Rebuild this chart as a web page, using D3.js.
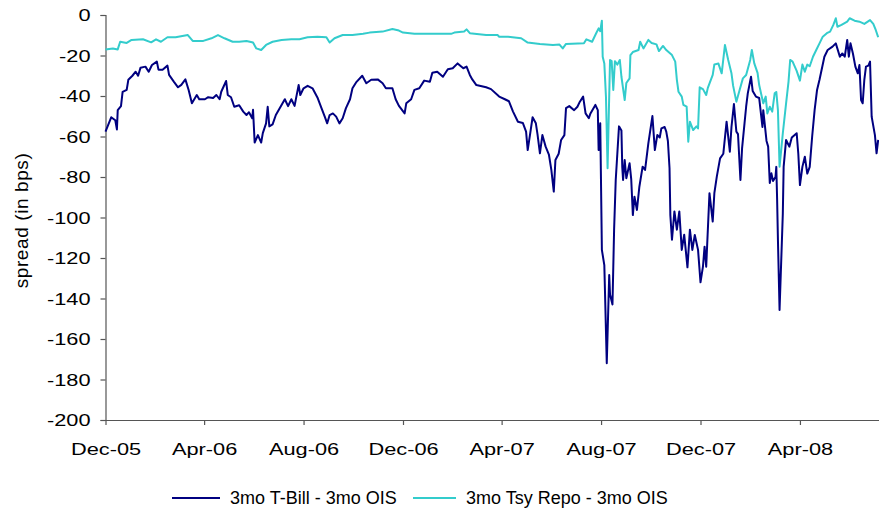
<!DOCTYPE html>
<html>
<head>
<meta charset="utf-8">
<script src="https://cdn.jsdelivr.net/npm/d3@7"></script>
<style>
  html, body { margin: 0; padding: 0; background: #fff; }
  svg { display: block; font-family: "Liberation Sans", Arial, sans-serif; }
</style>
</head>
<body>
<svg id="chart" width="879" height="516"></svg>
<script>
// ---------------- DATA ----------------
const seriesNames = ["3mo T-Bill - 3mo OIS", "3mo Tsy Repo - 3mo OIS"];

const billDates = [
"2005-12-01","2005-12-08","2005-12-13","2005-12-15","2005-12-16","2005-12-20","2005-12-22","2005-12-27","2005-12-29",
"2006-01-03","2006-01-07","2006-01-10","2006-01-13","2006-01-19","2006-01-23","2006-01-27","2006-02-02","2006-02-04",
"2006-02-09","2006-02-15","2006-02-17","2006-02-23","2006-02-28","2006-03-04","2006-03-09","2006-03-13","2006-03-17",
"2006-03-23","2006-03-26","2006-04-02","2006-04-06","2006-04-12","2006-04-16","2006-04-20","2006-04-22","2006-04-28",
"2006-04-30","2006-05-04","2006-05-08","2006-05-14","2006-05-19","2006-05-23","2006-05-26","2006-05-30","2006-05-31",
"2006-06-02","2006-06-06","2006-06-10","2006-06-12","2006-06-16","2006-06-18","2006-06-20","2006-06-24","2006-06-28",
"2006-07-05","2006-07-09","2006-07-13","2006-07-17","2006-07-21","2006-07-23","2006-07-26","2006-07-28","2006-08-01",
"2006-08-06","2006-08-12","2006-08-18","2006-08-23","2006-08-27","2006-08-30","2006-09-02","2006-09-06","2006-09-10",
"2006-09-14","2006-09-18","2006-09-22","2006-09-27","2006-09-30","2006-10-05","2006-10-12","2006-10-17","2006-10-23",
"2006-10-31","2006-11-06","2006-11-10","2006-11-18","2006-11-22","2006-11-26","2006-12-03","2006-12-05","2006-12-11",
"2006-12-15","2006-12-21","2006-12-27","2007-01-03","2007-01-06","2007-01-12","2007-01-19","2007-01-25","2007-01-31",
"2007-02-06","2007-02-13","2007-02-17","2007-02-21","2007-02-24","2007-03-01","2007-03-13","2007-03-19","2007-03-29",
"2007-04-05","2007-04-10","2007-04-15","2007-04-21","2007-04-27","2007-05-01","2007-05-03","2007-05-09","2007-05-13",
"2007-05-15","2007-05-18","2007-05-21","2007-05-25","2007-05-29","2007-06-01","2007-06-04","2007-06-06","2007-06-10",
"2007-06-13","2007-06-17","2007-06-19","2007-06-23","2007-06-29","2007-07-03","2007-07-06","2007-07-10","2007-07-13",
"2007-07-17","2007-07-19","2007-07-25","2007-07-28","2007-07-29","2007-07-31","2007-08-02","2007-08-05","2007-08-08",
"2007-08-11","2007-08-12","2007-08-15","2007-08-17","2007-08-19","2007-08-23","2007-08-26","2007-08-27","2007-08-28",
"2007-08-30","2007-09-01","2007-09-05","2007-09-07","2007-09-09","2007-09-11","2007-09-14","2007-09-17","2007-09-21",
"2007-09-24","2007-09-28","2007-10-03","2007-10-06","2007-10-09","2007-10-12","2007-10-14","2007-10-18","2007-10-20",
"2007-10-22","2007-10-24","2007-10-25","2007-10-27","2007-10-30","2007-11-02","2007-11-05","2007-11-08","2007-11-11",
"2007-11-15","2007-11-18","2007-11-21","2007-11-24","2007-11-28","2007-12-01","2007-12-04","2007-12-06","2007-12-08",
"2007-12-12","2007-12-16","2007-12-18","2007-12-21","2007-12-25","2007-12-29","2008-01-02","2008-01-06","2008-01-08",
"2008-01-11","2008-01-14","2008-01-16","2008-01-19","2008-01-21","2008-01-24","2008-01-26","2008-01-28","2008-02-01",
"2008-02-03","2008-02-07","2008-02-11","2008-02-15","2008-02-16","2008-02-20","2008-02-22","2008-02-24","2008-02-26",
"2008-02-28","2008-03-02","2008-03-03","2008-03-04","2008-03-05","2008-03-07","2008-03-11","2008-03-12","2008-03-15",
"2008-03-19","2008-03-22","2008-03-28","2008-03-30","2008-04-01","2008-04-04","2008-04-07","2008-04-10","2008-04-13",
"2008-04-16","2008-04-19","2008-04-22","2008-04-25","2008-05-01","2008-05-05","2008-05-11","2008-05-15","2008-05-20",
"2008-05-23","2008-05-26","2008-05-29","2008-05-31","2008-06-02","2008-06-05","2008-06-08","2008-06-11","2008-06-13",
"2008-06-15","2008-06-17","2008-06-19","2008-06-21","2008-06-24","2008-06-26","2008-06-28","2008-07-02","2008-07-04",
"2008-07-06"
];
const billValues = [
-57.6,-50.5,-52,-56.5,-47,-45,-38,-37,-32,
-30,-28,-30,-26,-25.5,-28,-24.7,-23,-27,
-27,-25,-29.6,-33,-35.7,-34.5,-31.8,-37,-43.6,
-39.5,-41.6,-41.6,-40.6,-41,-39.5,-41.6,-37.9,-32.6,
-39.5,-40.6,-45.3,-44.6,-47.7,-49.4,-48,-51,-46.8,
-63,-59.3,-63,-58.3,-53.5,-45.3,-55,-54,-49.4,
-44.4,-41.6,-45,-41.6,-44.9,-40.7,-34.6,-39.5,-36.2,
-35,-36.2,-40.7,-46,-50.2,-53.5,-49.4,-48.6,-50.2,
-53.5,-51,-46,-41.6,-36.2,-33,-30,-33.7,-32,
-31.8,-33.7,-36.2,-36.2,-41.6,-44.9,-48.6,-43.6,-41.6,
-37,-36.2,-32.4,-33,-28.5,-28,-30.5,-26.8,-26.3,
-23.9,-26.3,-25.5,-29.6,-31.8,-34.6,-35.7,-36.6,-40.3,
-41.6,-42.6,-47.7,-52.7,-53.3,-57.6,-66.7,-50.5,-53.5,
-58.8,-68.3,-59.3,-65,-68.9,-76.5,-87.2,-71.6,-68.5,
-61.7,-59.3,-46,-45,-47,-45.3,-42.8,-40.3,-48.6,
-51,-48.6,-44.4,-47,-66.7,-53.5,-116,-123.5,-172,
-128.4,-138,-143,-106,-81.5,-55,-57,-75,-81.5,
-71.6,-80.6,-73.2,-81,-98.8,-89.7,-96.3,-84.8,-74.9,
-76.5,-63.4,-49.9,-66.7,-59.3,-60.5,-56,-55.3,-57.6,
-62.2,-75.7,-98.8,-111,-97,-106,-97,-116,-108.5,
-124.6,-106,-116,-108.6,-116,-132,-124.3,-114.4,-124.3,
-88,-102,-88,-79.8,-70.8,-68.5,-52.7,-67.5,-55.3,
-44,-57.6,-58.8,-81.5,-65.9,-53.5,-45.3,-38.7,-30.5,
-37.5,-40.3,-41,-55.3,-47,-62.2,-65,-83,-78.2,
-82,-80,-75,-91,-111,-145.7,-98,-75,-61.7,
-65,-60.5,-58.4,-68.5,-84,-75,-70,-78.3,-75,
-60,-47,-37,-32,-20.6,-17.3,-15.6,-14,-20.6,
-19,-20.6,-12.3,-20.6,-14,-19,-25.5,-28.8,-24.7,
-42,-43.6,-32,-25.5,-25,-23,-50.2,-59.3,-68.3,
-61.7
];

const repoDates = [
"2005-12-01","2005-12-10","2005-12-16","2005-12-19","2005-12-27","2006-01-02","2006-01-16","2006-01-26","2006-02-01",
"2006-02-07","2006-02-15","2006-02-25","2006-03-12","2006-03-18","2006-03-31","2006-04-10","2006-04-18","2006-04-26",
"2006-05-06","2006-05-14","2006-05-23","2006-05-31","2006-06-04","2006-06-10","2006-06-16","2006-06-24","2006-07-05",
"2006-07-17","2006-07-27","2006-08-06","2006-08-18","2006-08-29","2006-09-02","2006-09-08","2006-09-18","2006-09-30",
"2006-10-13","2006-10-21","2006-11-06","2006-11-18","2006-11-26","2006-12-01","2006-12-15","2007-01-07","2007-01-29",
"2007-02-02","2007-02-14","2007-02-17","2007-02-21","2007-03-13","2007-03-27","2007-03-29","2007-04-09","2007-04-25",
"2007-05-03","2007-05-18","2007-06-03","2007-06-11","2007-06-15","2007-06-19","2007-07-11","2007-07-14","2007-07-21",
"2007-07-26","2007-07-29","2007-07-31","2007-08-02","2007-08-03","2007-08-05","2007-08-07","2007-08-09","2007-08-12",
"2007-08-14","2007-08-16","2007-08-18","2007-08-21","2007-08-24","2007-08-26","2007-08-30","2007-09-01","2007-09-05",
"2007-09-06","2007-09-09","2007-09-16","2007-09-18","2007-09-22","2007-09-28","2007-10-02","2007-10-08","2007-10-11",
"2007-10-16","2007-10-20","2007-10-27","2007-10-31","2007-11-02","2007-11-04","2007-11-08","2007-11-10","2007-11-14",
"2007-11-16","2007-11-18","2007-11-22","2007-11-26","2007-11-28","2007-11-30","2007-12-04","2007-12-08","2007-12-10",
"2007-12-16","2007-12-18","2007-12-23","2007-12-27","2007-12-31","2008-01-04","2008-01-08","2008-01-10","2008-01-14",
"2008-01-18","2008-01-22","2008-01-26","2008-01-31","2008-02-02","2008-02-05","2008-02-09","2008-02-11","2008-02-16",
"2008-02-19","2008-02-21","2008-02-24","2008-02-27","2008-03-01","2008-03-03","2008-03-05","2008-03-07","2008-03-09",
"2008-03-11","2008-03-15","2008-03-18","2008-03-20","2008-03-23","2008-03-28","2008-04-01","2008-04-04","2008-04-07",
"2008-04-10","2008-04-13","2008-04-17","2008-04-21","2008-04-25","2008-04-29","2008-05-04","2008-05-08","2008-05-12",
"2008-05-15","2008-05-17","2008-05-22","2008-05-29","2008-06-01","2008-06-07","2008-06-13","2008-06-19","2008-06-26",
"2008-06-30","2008-07-03","2008-07-06"
];
const repoValues = [
-17,-16.5,-17,-13.2,-13.8,-12.3,-12,-13.5,-12,
-13.2,-11,-11,-9.9,-12.8,-12.8,-11.5,-9.9,-11.5,
-13.2,-13.2,-12.8,-13.6,-16.5,-17.3,-14.8,-13.2,-12.3,
-12,-12,-11,-10.7,-11,-13.6,-11.5,-9.9,-9.9,
-9.3,-8.7,-8.2,-6.9,-7.7,-8.7,-9.3,-9.3,-9.3,
-8.7,-8.2,-7.1,-9,-9.9,-9.9,-10.7,-10.7,-11.5,
-13.6,-14.3,-14.8,-14.6,-16.5,-14.3,-14,-12,-13.2,
-9,-6.6,-8,-2.8,-20.6,-23.9,-40.3,-75.7,-22.2,
-22.8,-37,-22.8,-24.5,-22.2,-30.5,-42,-33.6,-31.3,
-19.8,-18.3,-17.3,-13.2,-16.5,-12.3,-13.8,-14.5,-17.8,
-15.3,-17.3,-19.8,-23,-32,-37.9,-40.3,-44.4,-45.3,
-62.6,-52.7,-56.8,-55,-56,-35.7,-36.6,-39.5,-36,
-29.6,-24.4,-24,-28.8,-14.8,-22.2,-28.8,-34.9,-42.8,
-37,-31.3,-29.6,-22.2,-17.3,-23.9,-28.6,-34.6,-43.6,
-40.3,-48.6,-45.3,-47.7,-38.7,-38,-47,-74.9,-66.7,
-58.4,-43.6,-32.9,-22.2,-23,-27.6,-32.4,-24.5,-28,
-24.5,-25.3,-20.6,-17.3,-14,-10.7,-9,-8.2,-4.9,
-1.6,-5.8,-4.9,-3.3,-1.6,-2.8,-3.3,-4.4,-2.5,
-4.4,-7.4,-11
];

const xTickDates = ["2005-12-01","2006-04-01","2006-08-01","2006-12-01","2007-04-01","2007-08-01","2007-12-01","2008-04-01"];
const xTickLabels = ["Dec-05","Apr-06","Aug-06","Dec-06","Apr-07","Aug-07","Dec-07","Apr-08"];
const yTicks = [0,-20,-40,-60,-80,-100,-120,-140,-160,-180,-200];
const yTickLabels = ["0","-20","-40","-60","-80","-100","-120","-140","-160","-180","-200"];
const yAxisTitle = "spread (in bps)";
const xDomain = ["2005-12-01","2008-07-07"];
const yDomain = [-200, 0];

// ---------------- CHART ----------------
(function () {
const parse = d3.timeParse("%Y-%m-%d");
const svg = d3.select("#chart");
const mLeft = 105.5, mRight = 879, mTop = 15, mBottom = 420;
const colors = ["#000080", "#33CCCC"];
const axisColor = "#555";
const hScale = 1.32;

const x = d3.scaleTime().domain(xDomain.map(parse)).range([mLeft, mRight]);
const y = d3.scaleLinear().domain(yDomain).range([mBottom, mTop]);

// y axis
const yAxis = svg.append("g").attr("transform", `translate(${mLeft},0)`)
  .call(d3.axisLeft(y).tickValues(yTicks).tickSize(5).tickFormat(""));
yAxis.select(".domain").attr("stroke", axisColor).attr("stroke-width", 1.2);
yAxis.selectAll(".tick line").attr("stroke", axisColor).attr("stroke-width", 1.2);
yAxis.selectAll(".tick").append("text")
  .attr("transform", "translate(-15,0) scale(" + hScale + ",1)")
  .attr("text-anchor", "end").attr("dy", "0.35em")
  .attr("font-size", 16.5).attr("fill", "#000")
  .text((d, i) => yTickLabels[i]);

// x axis
const xAxis = svg.append("g").attr("transform", `translate(0,${mBottom})`)
  .call(d3.axisBottom(x).tickValues(xTickDates.map(parse)).tickSize(5).tickFormat(""));
xAxis.select(".domain").attr("stroke", axisColor).attr("stroke-width", 1.2)
  .attr("d", `M${mLeft},0.5H${mRight}`);
xAxis.selectAll(".tick line").attr("stroke", axisColor).attr("stroke-width", 1.2);
xAxis.selectAll(".tick").append("text")
  .attr("transform", "translate(0,35) scale(" + hScale + ",1)")
  .attr("text-anchor", "middle")
  .attr("font-size", 16.5).attr("fill", "#000")
  .text((d, i) => xTickLabels[i]);

// y title
svg.append("text")
  .attr("transform", `translate(28,${(mTop + mBottom) / 2 + 3}) rotate(-90)`)
  .attr("text-anchor", "middle")
  .attr("font-size", 19).attr("letter-spacing", 0.6).attr("fill", "#000")
  .text(yAxisTitle);

// lines
const line = d3.line().x(d => x(d[0])).y(d => y(d[1]));
const billData = billDates.map((d, i) => [parse(d), billValues[i]]);
const repoData = repoDates.map((d, i) => [parse(d), repoValues[i]]);

svg.append("path").datum(billData)
  .attr("fill", "none").attr("stroke", colors[0]).attr("stroke-width", 2)
  .attr("stroke-linejoin", "round").attr("d", line);
svg.append("path").datum(repoData)
  .attr("fill", "none").attr("stroke", colors[1]).attr("stroke-width", 2)
  .attr("stroke-linejoin", "round").attr("d", line);

// legend
const legendItems = [
  {x1: 172, x2: 220, tx: 230},
  {x1: 413, x2: 456, tx: 466}
];
const legend = svg.append("g");
legendItems.forEach((it, i) => {
  legend.append("line").attr("x1", it.x1).attr("x2", it.x2)
    .attr("y1", 498).attr("y2", 498)
    .attr("stroke", colors[i]).attr("stroke-width", 2);
  legend.append("text").attr("x", it.tx).attr("y", 498).attr("dy", "0.35em")
    .attr("font-size", 18).attr("fill", "#000").text(seriesNames[i]);
});
})();
</script>
</body>
</html>
